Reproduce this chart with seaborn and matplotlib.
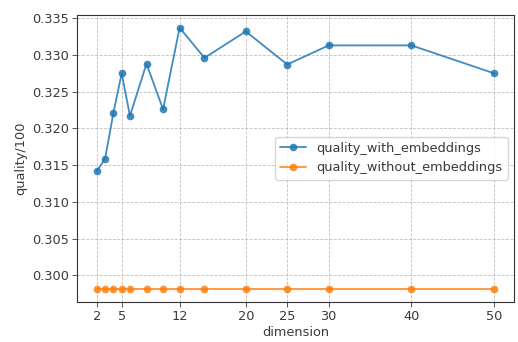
import pandas as pd
import matplotlib
matplotlib.use("Agg")
import matplotlib.pyplot as plt
import seaborn as sns

# values
dimension = [2, 3, 4, 5, 6, 8, 10, 12, 15, 20, 25, 30, 40, 50]
quality_with = [0.3142, 0.3159, 0.3221, 0.3275, 0.3217, 0.3288, 0.3226,
                0.3337, 0.3296, 0.3332, 0.3287, 0.3313, 0.3313, 0.3275]
quality_without = [0.2982] * len(dimension)
x_ticks = [2, 5, 12, 20, 25, 30, 40, 50]
series_names = ["quality_with_embeddings", "quality_without_embeddings"]

df = pd.DataFrame({
    "dimension": dimension * 2,
    "quality": quality_with + quality_without,
    "series": [series_names[0]] * len(dimension) + [series_names[1]] * len(dimension),
})

FS = 9.3
TXT = "#3a3a3a"

sns.set_theme(style="ticks")
plt.rcParams["font.family"] = ["DejaVu Sans"]
plt.rcParams["font.size"] = FS

fig = plt.figure(figsize=(5.18, 3.42), dpi=100)
ax = fig.add_axes([0.1486, 0.1178, 0.8437, 0.8392])

sns.lineplot(data=df, x="dimension", y="quality", hue="series",
             palette=["#1f77b4", "#ff7f0e"], marker="o", markersize=5.5,
             markeredgewidth=0, linewidth=1.3, alpha=0.85, ax=ax)

ax.grid(True, ls="--", lw=0.6, color="#b0b0b0", alpha=0.8)
ax.set_xticks(x_ticks)
ax.set_xlabel("dimension", fontsize=FS, labelpad=2, color=TXT)
ax.set_ylabel("quality/100", fontsize=FS, labelpad=3, color=TXT)
ax.tick_params(labelsize=FS, length=3.5, width=0.7, pad=2.5,
               colors="#555555", labelcolor=TXT)
ax.yaxis.set_major_formatter(matplotlib.ticker.FormatStrFormatter("%.3f"))
for s in ax.spines.values():
    s.set_linewidth(0.8)
    s.set_color("#333333")
leg = ax.legend(loc="center right", fontsize=FS, framealpha=0.8, edgecolor="#cccccc")
for t in leg.get_texts():
    t.set_color(TXT)

plt.savefig("out.png", dpi=100)
plt.close()
